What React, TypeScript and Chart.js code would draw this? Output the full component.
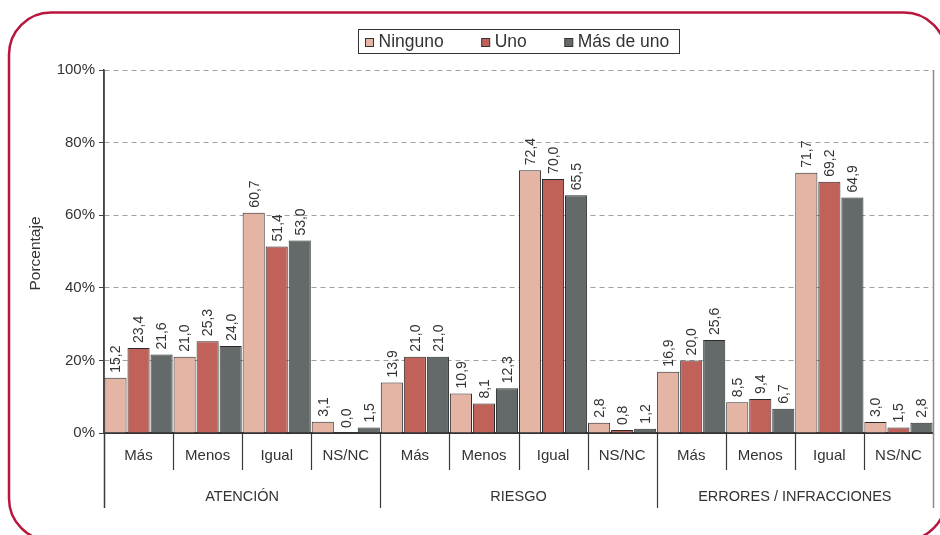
import React, { useEffect, useRef } from "react";
import { Chart, registerables } from "chart.js";

Chart.register(...registerables);

const groups = ["ATENCIÓN", "RIESGO", "ERRORES / INFRACCIONES"];
const subCategories = ["Más", "Menos", "Igual", "NS/NC"];
const seriesNames = ["Ninguno", "Uno", "Más de uno"];
const ninguno = [15.2, 21.0, 60.7, 3.1, 13.9, 10.9, 72.4, 2.8, 16.9, 8.5, 71.7, 3.0];
const uno = [23.4, 25.3, 51.4, 0.0, 21.0, 8.1, 70.0, 0.8, 20.0, 9.4, 69.2, 1.5];
const masDeUno = [21.6, 24.0, 53.0, 1.5, 21.0, 12.3, 65.5, 1.2, 25.6, 6.7, 64.9, 2.8];
const yTicks = [0, 20, 40, 60, 80, 100];
const yTitle = "Porcentaje";

const seriesColors = ["#E4B4A4", "#C1625A", "#636A69"];
const FONT = "'Liberation Sans', Arial, Helvetica, sans-serif";
const TEXT = "#333333";

const fmt = (v: number) => v.toFixed(1).replace(".", ",");

const decorPlugin = {
  id: "decor",
  afterDraw(chart: any) {
    const ctx = chart.ctx as CanvasRenderingContext2D;
    const area = chart.chartArea;
    const x = chart.scales.x;
    const n = x.ticks.length;
    const cw = (area.right - area.left) / n;

    ctx.save();
    // frame
    ctx.strokeStyle = "#B8163C";
    ctx.lineWidth = 2.5;
    ctx.beginPath();
    (ctx as any).roundRect(9, 12.5, 937, 528, 42);
    ctx.stroke();

    // value labels
    ctx.fillStyle = TEXT;
    ctx.font = `14px ${FONT}`;
    ctx.textAlign = "left";
    ctx.textBaseline = "middle";
    chart.data.datasets.forEach((ds: any, di: number) => {
      const meta = chart.getDatasetMeta(di);
      meta.data.forEach((bar: any, i: number) => {
        ctx.save();
        ctx.translate(bar.x, bar.y - 5);
        ctx.rotate(-Math.PI / 2);
        ctx.fillText(fmt(ds.data[i]), 0, 1);
        ctx.restore();
      });
    });

    // separators
    const bottom = area.bottom;
    for (let i = 0; i <= n; i++) {
      const px = Math.round(area.left + i * cw) + 0.5;
      const isGroup = i % subCategories.length === 0;
      ctx.beginPath();
      if (i === n) {
        ctx.strokeStyle = "#8a8a8a";
        ctx.lineWidth = 1.5;
        ctx.moveTo(px, area.top);
        ctx.lineTo(px, bottom + 75);
      } else {
        ctx.strokeStyle = "#3a3a3a";
        ctx.lineWidth = i === 0 ? 1.5 : 1.2;
        ctx.moveTo(px, bottom);
        ctx.lineTo(px, bottom + (isGroup ? 75 : 37));
      }
      ctx.stroke();
    }

    // group labels
    ctx.fillStyle = TEXT;
    ctx.font = `14.5px ${FONT}`;
    ctx.textAlign = "center";
    ctx.textBaseline = "middle";
    groups.forEach((g, gi) => {
      const cx = area.left + (gi + 0.5) * subCategories.length * cw;
      ctx.fillText(g, cx, 497);
    });

    // y title
    ctx.save();
    ctx.translate(36, (area.top + area.bottom) / 2 + 2);
    ctx.rotate(-Math.PI / 2);
    ctx.font = `15.5px ${FONT}`;
    ctx.fillText(yTitle, 0, 0);
    ctx.restore();

    // legend
    ctx.fillStyle = "#ffffff";
    ctx.fillRect(358.5, 29.5, 321, 24);
    ctx.strokeStyle = "#333333";
    ctx.lineWidth = 1;
    ctx.strokeRect(358.5, 29.5, 321, 24);
    ctx.font = `17.5px ${FONT}`;
    ctx.textAlign = "left";
    ctx.textBaseline = "middle";
    let cursor = 365.5;
    seriesNames.forEach((name, si) => {
      ctx.fillStyle = seriesColors[si];
      ctx.fillRect(cursor, 38.5, 8, 8);
      ctx.strokeStyle = "#333333";
      ctx.strokeRect(cursor, 38.5, 8, 8);
      ctx.fillStyle = TEXT;
      const tx = cursor + 13;
      ctx.fillText(name, tx, 42.5);
      cursor = tx + ctx.measureText(name).width + 38;
    });

    ctx.restore();
  },
};

export default function App() {
  const ref = useRef<HTMLCanvasElement | null>(null);

  useEffect(() => {
    if (!ref.current) return;
    Chart.defaults.font.family = FONT;
    const labels = groups.flatMap(() => subCategories);
    const data = [ninguno, uno, masDeUno];
    const chart = new Chart(ref.current, {
      type: "bar",
      data: {
        labels,
        datasets: seriesNames.map((name, i) => ({
          label: name,
          data: data[i],
          backgroundColor: seriesColors[i],
          borderColor: "#2b2b2b",
          borderWidth: 1,
          barPercentage: 0.96,
          categoryPercentage: 1,
        })),
      },
      options: {
        responsive: false,
        animation: false,
        layout: { padding: { top: 70, right: 7, bottom: 0, left: 0 } },
        plugins: {
          legend: { display: false },
          tooltip: { enabled: false },
          title: { display: false },
        },
        scales: {
          x: {
            type: "category",
            offset: true,
            grid: { display: false, drawTicks: false },
            border: { display: true, color: "#333333", width: 2 },
            ticks: {
              color: TEXT,
              font: { size: 15, family: FONT },
              padding: 14,
              maxRotation: 0,
              autoSkip: false,
            },
            afterFit: (s: any) => {
              s.height = 102;
            },
          },
          y: {
            min: 0,
            max: 100,
            afterBuildTicks: (s: any) => {
              s.ticks = yTicks.map((v) => ({ value: v }));
            },
            ticks: {
              color: TEXT,
              font: { size: 15, family: FONT },
              padding: 4,
              callback: (v: any) => `${v}%`,
            },
            grid: {
              color: (c: any) => (c.tick && c.tick.value === 0 ? "rgba(0,0,0,0)" : "#a0a0a0"),
              lineWidth: 1,
              tickLength: 5,
              tickColor: "#444444",
              tickBorderDash: [],
            } as any,
            border: { display: true, color: "#444444", width: 1.5, dash: [5, 4], dashOffset: 0 } as any,
            afterFit: (s: any) => {
              s.width = 104;
            },
          },
        },
      },
      plugins: [
        decorPlugin,
        {
          id: "solidYAxis",
          beforeDatasetsDraw(chart: any) {
            const ctx = chart.ctx as CanvasRenderingContext2D;
            const a = chart.chartArea;
            ctx.save();
            ctx.strokeStyle = "#444444";
            ctx.lineWidth = 1.5;
            ctx.beginPath();
            ctx.moveTo(a.left, a.top);
            ctx.lineTo(a.left, a.bottom);
            ctx.stroke();
            ctx.restore();
          },
        },
      ],
    } as any);
    return () => chart.destroy();
  }, []);

  return (
    <div style={{ position: "absolute", left: 0, top: 0, width: 940, height: 535, background: "#fff" }}>
      <canvas ref={ref} width={940} height={535} style={{ display: "block" }} />
    </div>
  );
}
